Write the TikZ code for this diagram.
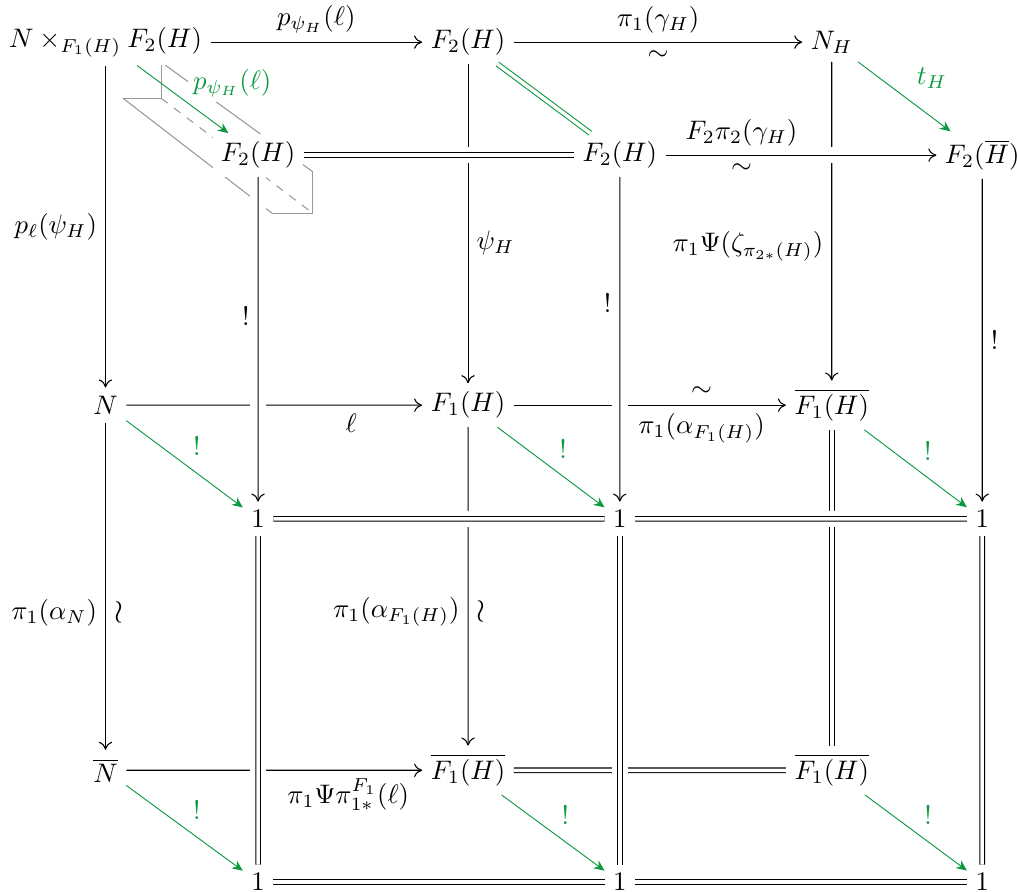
\documentclass[tikz,border=0pt]{standalone}
\usepackage{amsmath,amssymb}
\usetikzlibrary{arrows.meta}
\definecolor{ArrowClr}{rgb}{0.05,0.6,0.25}
\definecolor{CornerClr}{rgb}{0.6,0.6,0.6}

\tikzset{
  obj/.style={fill=white,inner sep=3pt},
  lbl/.style={inner sep=3pt},
  tlbl/.style={lbl,text=ArrowClr},
  map/.style={-{To[length=3pt,width=5pt]},line width=0.4pt},
  eq/.style={double,double distance=1.3pt,line width=0.4pt},
  tmap/.style={-{Stealth[length=4pt,width=3.5pt]},draw=ArrowClr,line width=0.35pt},
  over/.style={preaction={draw=white,-,line width=6pt}},
  corner/.style={draw=CornerClr,line width=0.4pt},
}

\begin{document}
\begin{tikzpicture}[scale=.877]
\useasboundingbox (0,0) rectangle (15.21,-13.34);

% the pullback corner
\draw[corner] (1.84,-1.47) -- (2.41,-1.47) -- (2.41,-0.93);
\draw[corner] (4.07,-3.19) -- (4.68,-3.19) -- (4.68,-2.57);
\draw[corner] (2.41,-0.93) -- (4.68,-2.57);
\draw[corner] (1.84,-1.47) -- (4.07,-3.19);
\draw[corner,dashed] (2.41,-1.47) -- (4.68,-3.19);

% back face
\node[obj] (P) at (1.578,-0.63) {$N\times_{F_1(H)}F_2(H)$};
\node[obj] (F2b) at (7.00,-0.63) {$F_2(H)$};
\node[obj] (NH) at (12.44,-0.63) {$N_H$};
\node[obj] (N) at (1.578,-6.06) {$N$};
\node[obj] (F1) at (7.00,-6.06) {$F_1(H)$};
\node[obj] (F1b) at (12.44,-6.06) {$\overline{F_1(H)}$};
\node[obj] (Nb) at (1.578,-11.52) {$\overline{N}$};
\node[obj] (F1c) at (7.00,-11.52) {$\overline{F_1(H)}$};
\node[obj] (F1d) at (12.44,-11.52) {$\overline{F_1(H)}$};

% front face
\node[obj] (F2l) at (3.86,-2.32) {$F_2(H)$};
\node[obj] (F2m) at (9.27,-2.32) {$F_2(H)$};
\node[obj] (F2Hb) at (14.69,-2.32) {$F_2(\overline{H})$};
\node[obj] (Ul) at (3.86,-7.76) {$1$};
\node[obj] (Um) at (9.27,-7.76) {$1$};
\node[obj] (Ur) at (14.69,-7.76) {$1$};
\node[obj] (Ll) at (3.86,-13.19) {$1$};
\node[obj] (Lm) at (9.27,-13.19) {$1$};
\node[obj] (Lr) at (14.69,-13.19) {$1$};

% back arrows
\draw[map] (P) -- node[lbl,above]{$p_{\psi_H}(\ell)$} (F2b);
\draw[map] (F2b) -- node[lbl,above]{$\pi_1(\gamma_H)$} node[lbl,below]{$\sim$} (NH);
\draw[map] (P) -- node[lbl,left]{$p_\ell(\psi_H)$} (N);
\draw[map] (F2b) -- node[lbl,right,pos=.56]{$\psi_H$} (F1);
\draw[map] (NH) -- node[lbl,left,pos=.58]{$\pi_1\Psi(\zeta_{\pi_{2*}(H)})$} (F1b);
\draw[map] (N) -- node[lbl,below,pos=.76]{$\ell$} (F1);
\draw[map] (F1) -- node[lbl,above,pos=.69]{$\sim$} node[lbl,below,pos=.69]{$\pi_1(\alpha_{F_1(H)})$} (F1b);
\draw[map] (N) -- node[lbl,left,pos=.58]{$\pi_1(\alpha_N)$} node[lbl,right,pos=.58,font=\large]{$\wr$} (Nb);
\draw[map] (F1) -- node[lbl,left,pos=.58]{$\pi_1(\alpha_{F_1(H)})$} node[lbl,right,pos=.58,font=\large]{$\wr$} (F1c);
\draw[eq] (F1b) -- (F1d);
\draw[map] (Nb) -- node[lbl,below,pos=.75]{$\pi_1\Psi\pi_{1*}^{F_1}(\ell)$} (F1c);
\draw[eq] (F1c) -- (F1d);

% green diagonals
\draw[tmap] (P) -- node[tlbl,above right,pos=.55,inner sep=2pt,fill=white]{$p_{\psi_H}(\ell)$} (F2l);
\draw[eq,draw=ArrowClr] (F2b) -- (F2m);
\draw[tmap] (NH) -- node[tlbl,anchor=south west,inner sep=0pt,xshift=4.5pt,yshift=3pt]{$t_H$} (F2Hb);
\draw[tmap] (N) -- node[tlbl,above right]{$!$} (Ul);
\draw[tmap] (F1) -- node[tlbl,above right]{$!$} (Um);
\draw[tmap] (F1b) -- node[tlbl,above right]{$!$} (Ur);
\draw[tmap] (Nb) -- node[tlbl,above right]{$!$} (Ll);
\draw[tmap] (F1c) -- node[tlbl,above right]{$!$} (Lm);
\draw[tmap] (F1d) -- node[tlbl,above right]{$!$} (Lr);

% front face arrows
\draw[eq,over] (F2l) -- (F2m);
\draw[map,over] (F2m) -- node[lbl,above,pos=.28]{$F_2\pi_2(\gamma_H)$} node[lbl,below,pos=.28]{$\sim$} (F2Hb);
\draw[map,over] (F2l) -- node[lbl,left,pos=.43]{$!$} (Ul);
\draw[map,over] (F2m) -- node[lbl,left,pos=.39]{$!$} (Um);
\draw[map] (F2Hb) -- node[lbl,right]{$!$} (Ur);
\draw[eq,over] (Ul) -- (Um);
\draw[eq,over] (Um) -- (Ur);
\draw[eq,over] (Ul) -- (Ll);
\draw[eq,over] (Um) -- (Lm);
\draw[eq] (Ur) -- (Lr);
\draw[eq] (Ll) -- (Lm);
\draw[eq] (Lm) -- (Lr);

\end{tikzpicture}
\end{document}
